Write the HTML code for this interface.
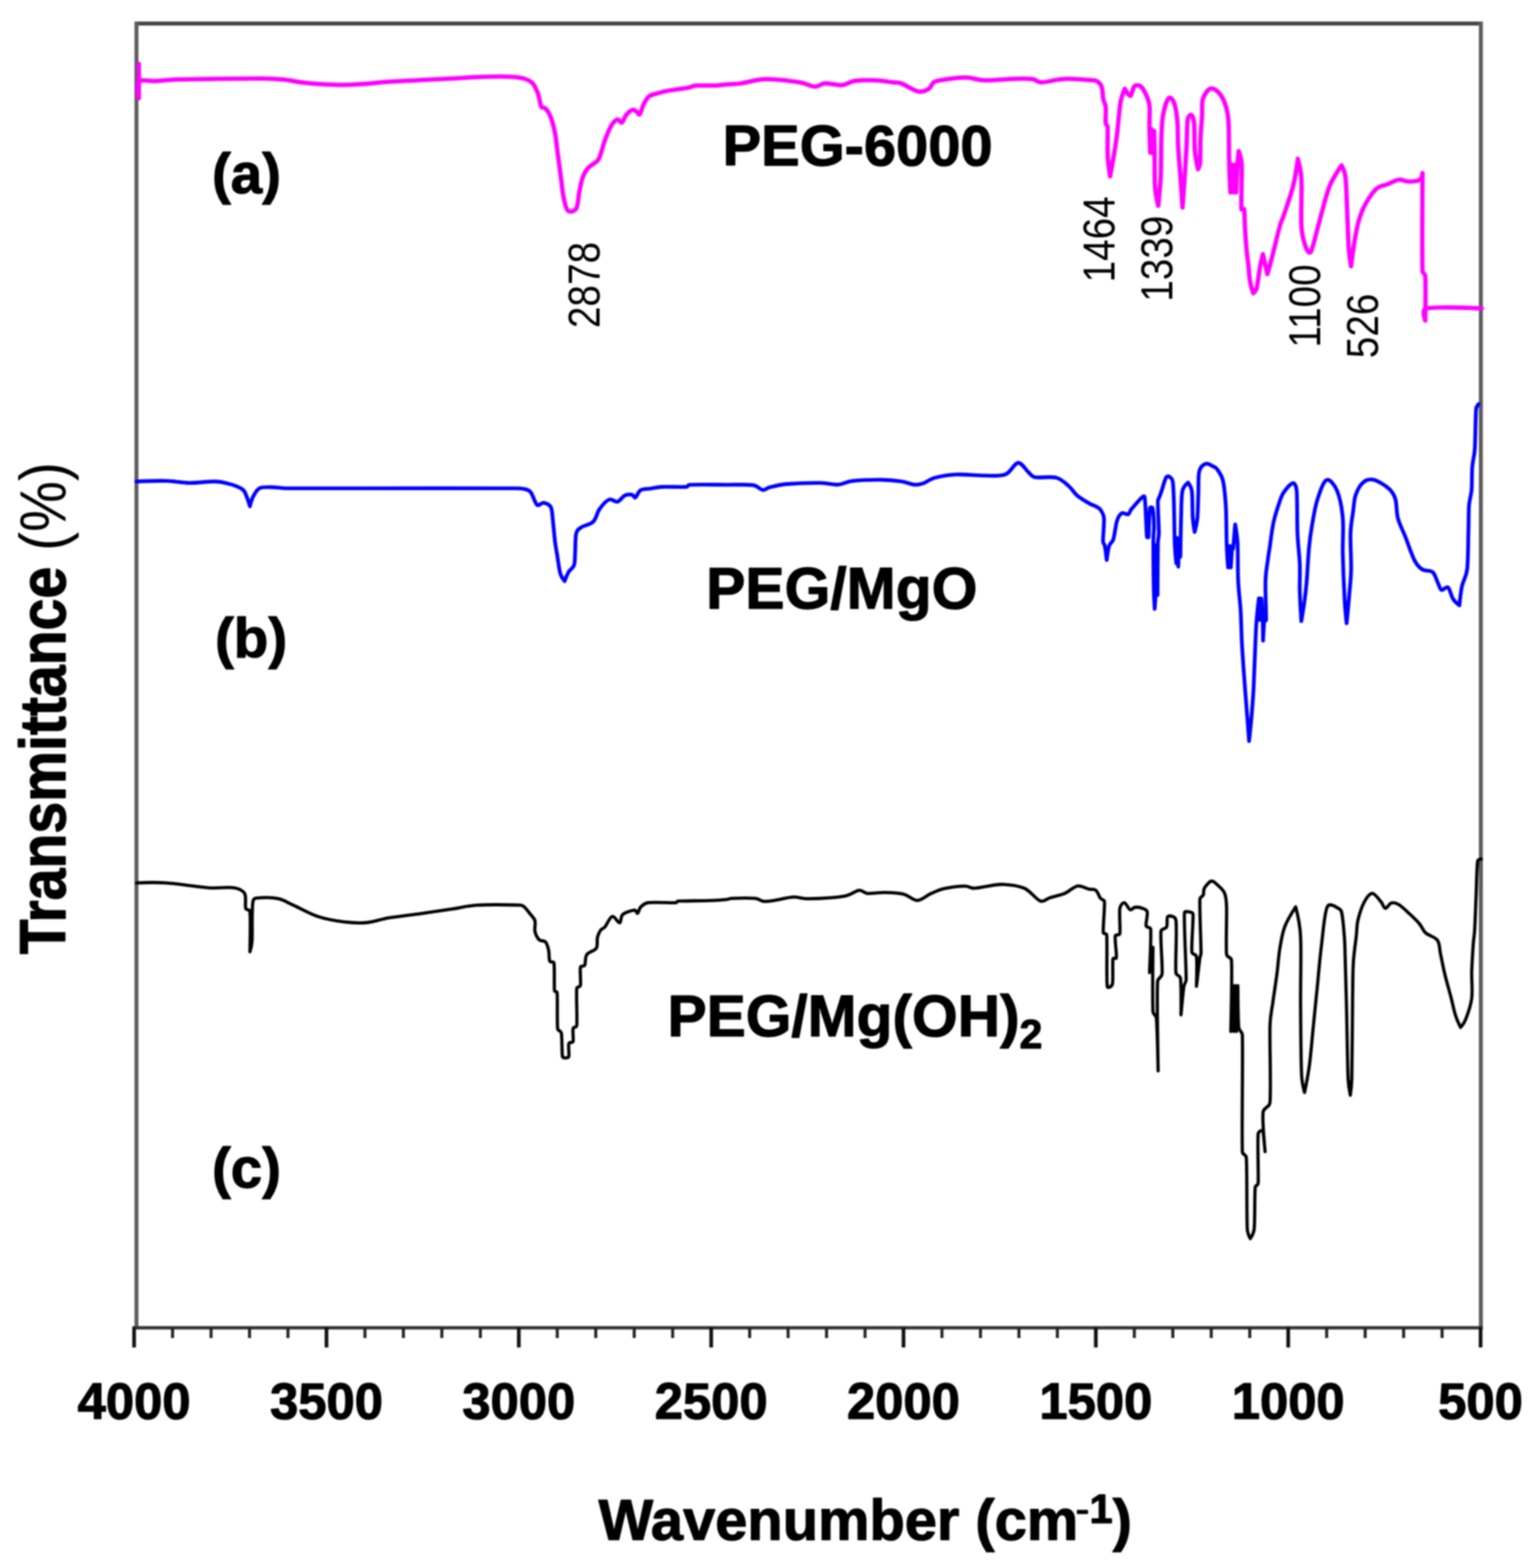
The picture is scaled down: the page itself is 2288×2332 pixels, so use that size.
<!DOCTYPE html>
<html><head><meta charset="utf-8"><title>FTIR spectra</title>
<style>
html,body{margin:0;padding:0;background:#fff;overflow:hidden;}
svg{display:block;filter:blur(0.9px);}
.b text{font-family:"Liberation Sans",Arial,sans-serif;font-weight:bold;fill:#000;stroke:#000;stroke-width:1.6px;stroke-linejoin:round;}
.r text{font-family:"Liberation Sans",Arial,sans-serif;font-weight:normal;fill:#000;}
</style></head><body>
<svg width="2288" height="2332" viewBox="0 0 2288 2332">
<rect width="2288" height="2332" fill="#fff"/>
<g fill="none" stroke-linecap="butt">
<line x1="203" y1="35" x2="2203" y2="35" stroke="#474747" stroke-width="6"/>
<line x1="203" y1="32" x2="203" y2="1975" stroke="#5e5e5e" stroke-width="6"/>
<line x1="2203" y1="32" x2="2203" y2="1975" stroke="#5e5e5e" stroke-width="6"/>
<line x1="197" y1="1974.7" x2="2206" y2="1974.7" stroke="#333" stroke-width="5"/>
<line x1="2202.6" y1="1974" x2="2202.6" y2="2004" stroke="#111" stroke-width="5.5"/>
<line x1="2145.3" y1="1974" x2="2145.3" y2="1990" stroke="#222" stroke-width="4.5"/>
<line x1="2088.1" y1="1974" x2="2088.1" y2="1990" stroke="#222" stroke-width="4.5"/>
<line x1="2030.9" y1="1974" x2="2030.9" y2="1990" stroke="#222" stroke-width="4.5"/>
<line x1="1973.6" y1="1974" x2="1973.6" y2="1990" stroke="#222" stroke-width="4.5"/>
<line x1="1916.4" y1="1974" x2="1916.4" y2="2004" stroke="#111" stroke-width="5.5"/>
<line x1="1859.2" y1="1974" x2="1859.2" y2="1990" stroke="#222" stroke-width="4.5"/>
<line x1="1801.9" y1="1974" x2="1801.9" y2="1990" stroke="#222" stroke-width="4.5"/>
<line x1="1744.7" y1="1974" x2="1744.7" y2="1990" stroke="#222" stroke-width="4.5"/>
<line x1="1687.5" y1="1974" x2="1687.5" y2="1990" stroke="#222" stroke-width="4.5"/>
<line x1="1630.2" y1="1974" x2="1630.2" y2="2004" stroke="#111" stroke-width="5.5"/>
<line x1="1573.0" y1="1974" x2="1573.0" y2="1990" stroke="#222" stroke-width="4.5"/>
<line x1="1515.8" y1="1974" x2="1515.8" y2="1990" stroke="#222" stroke-width="4.5"/>
<line x1="1458.6" y1="1974" x2="1458.6" y2="1990" stroke="#222" stroke-width="4.5"/>
<line x1="1401.3" y1="1974" x2="1401.3" y2="1990" stroke="#222" stroke-width="4.5"/>
<line x1="1344.1" y1="1974" x2="1344.1" y2="2004" stroke="#111" stroke-width="5.5"/>
<line x1="1286.9" y1="1974" x2="1286.9" y2="1990" stroke="#222" stroke-width="4.5"/>
<line x1="1229.6" y1="1974" x2="1229.6" y2="1990" stroke="#222" stroke-width="4.5"/>
<line x1="1172.4" y1="1974" x2="1172.4" y2="1990" stroke="#222" stroke-width="4.5"/>
<line x1="1115.2" y1="1974" x2="1115.2" y2="1990" stroke="#222" stroke-width="4.5"/>
<line x1="1058.0" y1="1974" x2="1058.0" y2="2004" stroke="#111" stroke-width="5.5"/>
<line x1="1000.7" y1="1974" x2="1000.7" y2="1990" stroke="#222" stroke-width="4.5"/>
<line x1="943.5" y1="1974" x2="943.5" y2="1990" stroke="#222" stroke-width="4.5"/>
<line x1="886.3" y1="1974" x2="886.3" y2="1990" stroke="#222" stroke-width="4.5"/>
<line x1="829.0" y1="1974" x2="829.0" y2="1990" stroke="#222" stroke-width="4.5"/>
<line x1="771.8" y1="1974" x2="771.8" y2="2004" stroke="#111" stroke-width="5.5"/>
<line x1="714.6" y1="1974" x2="714.6" y2="1990" stroke="#222" stroke-width="4.5"/>
<line x1="657.3" y1="1974" x2="657.3" y2="1990" stroke="#222" stroke-width="4.5"/>
<line x1="600.1" y1="1974" x2="600.1" y2="1990" stroke="#222" stroke-width="4.5"/>
<line x1="542.9" y1="1974" x2="542.9" y2="1990" stroke="#222" stroke-width="4.5"/>
<line x1="485.7" y1="1974" x2="485.7" y2="2004" stroke="#111" stroke-width="5.5"/>
<line x1="428.4" y1="1974" x2="428.4" y2="1990" stroke="#222" stroke-width="4.5"/>
<line x1="371.2" y1="1974" x2="371.2" y2="1990" stroke="#222" stroke-width="4.5"/>
<line x1="314.0" y1="1974" x2="314.0" y2="1990" stroke="#222" stroke-width="4.5"/>
<line x1="256.7" y1="1974" x2="256.7" y2="1990" stroke="#222" stroke-width="4.5"/>
<line x1="199.5" y1="1974" x2="199.5" y2="2004" stroke="#111" stroke-width="5.5"/>
</g>
<g fill="none" stroke-linejoin="round" stroke-linecap="round">
<path d="M206.5,95.0 C206.5,95.0 206.5,146.0 206.5,146.0 C206.5,146.0 202.3,125.8 206.5,121.5 C210.7,117.2 222.1,121.0 231.5,120.5 C240.9,120.0 248.8,118.6 263.0,118.3 C289.2,117.7 362.7,116.7 389.0,116.7 C403.2,116.7 410.1,117.2 420.6,118.3 C431.1,119.3 441.5,121.8 452.0,123.0 C462.5,124.2 473.1,125.0 483.6,125.5 C494.1,126.0 504.5,126.4 515.0,126.2 C525.5,126.0 536.2,125.4 546.7,124.6 C557.2,123.8 563.9,122.4 578.0,121.5 C593.7,120.5 625.2,119.1 641.0,118.3 C655.3,117.6 659.5,117.4 672.7,116.7 C685.9,116.0 705.3,114.6 720.0,114.2 C734.7,113.8 751.0,113.7 761.0,114.2 C769.6,114.6 774.7,115.3 780.0,117.0 C785.3,118.7 789.2,120.3 792.6,124.1 C796.0,127.9 798.4,134.1 800.5,139.9 C802.6,145.7 803.4,155.3 805.2,158.8 C806.6,161.5 809.5,158.9 811.5,161.1 C813.9,163.7 817.0,168.3 819.4,174.5 C821.8,180.7 824.1,190.3 825.7,198.2 C827.3,206.1 827.8,213.9 828.8,221.8 C829.8,229.7 831.0,237.5 832.0,245.4 C833.0,253.3 834.1,261.2 835.1,269.1 C836.1,277.0 836.7,285.4 838.3,292.7 C839.9,300.0 841.5,310.3 844.6,313.2 C847.8,316.1 854.3,314.7 857.2,310.0 C860.1,305.3 860.3,292.4 861.9,284.8 C863.5,277.2 864.6,270.1 866.7,264.3 C868.8,258.5 870.8,254.4 874.5,250.2 C878.2,246.0 885.6,242.5 888.7,239.1 C891.9,235.7 891.8,234.1 893.4,229.7 C895.2,224.7 897.1,216.3 899.7,209.2 C902.3,202.1 906.1,192.3 909.2,187.1 C912.3,182.0 916.0,178.5 918.6,177.7 C921.2,176.9 922.9,183.4 925.0,182.4 C927.1,181.4 928.7,174.6 931.3,171.4 C933.9,168.2 938.1,164.4 940.7,163.5 C943.3,162.6 945.2,164.8 947.0,165.9 C948.8,167.0 949.9,171.8 951.7,169.8 C953.5,167.8 955.6,158.5 958.0,154.0 C960.4,149.5 962.7,145.5 965.9,143.0 C969.1,140.5 972.5,140.4 977.0,139.1 C981.5,137.8 987.5,136.1 992.7,135.1 C998.0,134.1 1003.2,133.6 1008.5,132.8 C1013.8,132.0 1019.8,131.3 1024.2,130.4 C1028.7,129.5 1030.1,127.7 1035.2,127.3 C1041.8,126.8 1056.2,127.6 1063.6,127.3 C1070.7,127.0 1073.1,126.2 1079.4,125.7 C1085.7,125.2 1091.6,125.4 1101.5,124.1 C1111.5,122.8 1124.6,118.1 1139.3,117.8 C1154.0,117.5 1177.7,120.7 1189.8,122.5 C1200.0,124.0 1205.5,128.5 1211.8,128.8 C1218.1,129.1 1220.8,124.5 1227.6,124.1 C1234.4,123.7 1245.4,127.2 1252.8,126.6 C1260.2,126.0 1263.3,121.5 1271.7,120.3 C1280.1,119.1 1293.8,119.0 1303.2,119.4 C1312.7,119.8 1322.1,121.7 1328.4,122.5 C1334.1,123.2 1335.6,122.2 1341.0,124.1 C1347.3,126.4 1359.4,134.8 1366.2,136.1 C1373.0,137.4 1377.8,134.5 1382.0,132.0 C1386.2,129.5 1385.3,122.9 1391.5,121.0 C1400.4,118.2 1423.5,115.6 1435.6,115.3 C1447.7,115.0 1451.4,119.1 1464.0,119.4 C1476.6,119.7 1499.1,117.5 1511.2,117.2 C1522.5,116.9 1530.1,116.9 1536.4,117.8 C1542.4,118.6 1542.9,122.4 1549.0,122.5 C1555.3,122.6 1567.5,119.3 1574.3,118.4 C1581.1,117.5 1582.9,117.1 1590.0,117.2 C1597.6,117.3 1613.0,118.4 1620.0,119.0 C1625.3,119.4 1628.6,118.9 1631.8,120.7 C1635.0,122.5 1637.4,125.1 1639.0,129.6 C1640.6,134.0 1640.3,142.5 1641.3,147.4 C1642.3,152.3 1644.3,153.7 1644.9,159.2 C1645.5,165.1 1644.4,177.9 1644.9,182.9 C1645.2,185.9 1647.6,185.9 1647.8,188.9 C1648.3,196.8 1647.2,218.1 1647.8,230.3 C1648.4,242.5 1651.4,262.3 1651.4,262.3 C1651.4,262.3 1654.2,247.1 1655.5,239.8 C1656.8,232.5 1658.0,225.6 1659.1,218.5 C1660.2,211.4 1661.2,204.7 1662.1,197.2 C1663.0,189.7 1663.5,181.4 1664.4,173.5 C1665.3,165.6 1665.9,156.7 1667.4,149.8 C1668.9,142.9 1673.3,132.0 1673.3,132.0 C1673.3,132.0 1679.2,143.3 1681.6,142.7 C1684.0,142.1 1684.9,130.8 1687.5,128.4 C1690.1,126.0 1694.2,126.6 1697.0,128.4 C1699.8,130.2 1701.9,134.3 1704.1,139.1 C1706.3,143.8 1709.0,148.6 1710.0,156.9 C1711.0,165.2 1709.8,177.2 1710.0,188.9 C1710.2,200.6 1711.2,226.8 1711.2,226.8 C1711.2,226.8 1713.0,192.0 1713.0,192.0 C1713.0,192.0 1715.0,228.0 1715.0,228.0 C1715.0,228.0 1717.0,195.0 1717.0,195.0 C1717.0,195.0 1717.4,213.0 1717.6,226.8 C1717.8,240.6 1717.4,264.5 1718.3,277.7 C1719.2,290.7 1723.1,306.2 1723.1,306.2 C1723.1,306.2 1725.9,276.6 1726.6,265.9 C1727.3,255.3 1727.0,252.7 1727.2,242.2 C1727.4,231.7 1727.3,214.9 1727.8,203.1 C1728.3,191.2 1728.4,180.6 1730.2,171.1 C1732.0,161.6 1735.7,149.2 1738.5,146.2 C1741.3,143.2 1745.1,148.7 1746.8,153.3 C1749.0,159.0 1750.5,169.7 1751.5,180.6 C1752.5,191.5 1751.9,204.3 1752.7,218.5 C1753.5,232.7 1755.2,250.9 1756.3,265.9 C1757.4,280.9 1759.2,308.5 1759.2,308.5 C1759.2,308.5 1761.2,280.9 1762.2,265.9 C1763.2,250.9 1764.3,233.3 1765.1,218.5 C1765.9,203.7 1765.7,184.9 1766.9,177.0 C1767.4,173.4 1770.7,170.1 1772.3,171.1 C1773.9,172.1 1775.8,177.3 1776.4,182.9 C1777.3,191.8 1776.6,212.9 1777.6,224.4 C1778.6,235.9 1782.3,251.7 1782.3,251.7 C1782.3,251.7 1784.9,246.7 1785.3,242.2 C1785.9,234.7 1785.4,218.4 1785.9,206.6 C1786.4,194.8 1787.7,181.0 1788.3,171.1 C1788.9,161.2 1787.4,153.9 1789.4,147.4 C1791.4,140.9 1796.3,133.8 1800.1,132.0 C1803.9,130.2 1808.3,133.1 1812.0,136.7 C1815.7,140.3 1819.7,146.6 1822.3,153.8 C1824.9,161.0 1826.7,168.0 1827.5,180.0 C1828.5,194.9 1828.1,225.3 1828.6,243.0 C1829.1,260.7 1830.5,286.0 1830.5,286.0 C1830.5,286.0 1833.0,245.0 1833.0,245.0 C1833.0,245.0 1835.0,286.0 1835.0,286.0 C1835.0,286.0 1837.0,245.0 1837.0,245.0 C1837.0,245.0 1839.0,286.0 1839.0,286.0 C1839.0,286.0 1839.9,260.2 1840.5,250.0 C1841.1,239.8 1842.8,224.7 1842.8,224.7 C1842.8,224.7 1846.4,235.1 1847.1,243.3 C1847.8,251.6 1847.1,262.9 1847.1,274.2 C1847.0,285.5 1846.2,304.8 1846.8,311.0 C1847.0,312.8 1850.5,309.4 1850.8,311.2 C1851.7,316.0 1851.5,329.4 1852.1,339.7 C1852.7,350.0 1853.8,364.1 1854.6,373.0 C1855.4,381.9 1856.2,385.4 1857.0,392.8 C1857.8,400.2 1858.3,410.4 1859.5,417.6 C1860.7,424.8 1864.4,436.1 1864.4,436.1 C1864.4,436.1 1868.4,432.6 1869.4,428.7 C1871.1,422.3 1872.8,406.2 1874.3,397.8 C1875.8,389.4 1878.7,378.0 1878.7,378.0 C1878.7,378.0 1885.5,407.7 1885.5,407.7 C1885.5,407.7 1889.0,395.5 1891.6,385.4 C1894.7,373.4 1901.0,346.9 1904.0,336.0 C1906.0,328.7 1907.4,327.4 1909.8,320.2 C1913.1,310.3 1920.3,290.4 1923.8,276.4 C1927.3,262.4 1930.8,236.1 1930.8,236.1 C1930.8,236.1 1935.4,253.2 1936.1,267.6 C1937.0,284.5 1934.9,320.8 1936.1,337.7 C1937.1,352.2 1940.8,363.1 1943.1,369.2 C1944.5,372.9 1948.2,378.0 1950.1,374.5 C1953.0,369.2 1957.7,348.2 1960.6,337.7 C1963.5,327.2 1964.7,321.6 1967.6,311.4 C1970.5,301.2 1973.7,286.9 1978.1,276.4 C1982.5,265.9 1991.0,253.5 1993.9,248.4 C1994.6,247.2 1995.8,246.0 1995.8,246.0 C1995.8,246.0 2000.5,254.7 2001.5,262.5 C2002.9,273.5 2003.2,294.0 2004.0,311.9 C2004.8,329.8 2005.5,355.6 2006.5,369.6 C2007.3,381.5 2009.8,396.0 2009.8,396.0 C2009.8,396.0 2012.8,372.7 2014.7,361.4 C2016.6,350.1 2018.5,338.0 2021.3,328.4 C2024.0,318.8 2026.8,311.7 2031.2,303.7 C2035.6,295.7 2042.2,285.6 2047.7,280.6 C2053.2,275.7 2058.7,276.2 2064.2,274.0 C2069.7,271.8 2075.5,268.1 2080.7,267.4 C2085.9,266.7 2090.3,269.9 2095.5,269.9 C2100.7,269.9 2108.6,269.5 2112.0,267.4 C2115.4,265.3 2116.2,257.5 2116.2,257.5 C2116.2,257.5 2115.5,377.0 2116.2,402.6 C2116.3,406.8 2120.1,406.7 2120.3,410.9 C2121.0,423.3 2120.3,476.8 2120.3,476.8 C2120.3,476.8 2114.0,460.4 2122.0,458.7 C2136.0,455.7 2204.4,458.7 2204.4,458.7" stroke="#ff00ff" stroke-width="6.5"/>
<path d="M203.0,716.1 C203.0,716.1 234.1,714.8 247.3,715.2 C260.5,715.6 269.9,718.1 282.0,718.3 C294.1,718.4 309.8,715.8 319.8,716.1 C329.8,716.4 335.0,718.0 341.8,719.9 C348.6,721.8 356.5,724.6 360.7,727.8 C364.9,730.9 365.1,734.6 367.0,738.8 C368.9,743.0 371.8,753.0 371.8,753.0 C371.8,753.0 374.1,743.3 376.5,738.8 C378.9,734.3 381.3,728.6 386.0,726.2 C390.7,723.8 398.1,724.6 404.9,724.6 C411.7,724.6 417.0,726.1 426.9,726.2 C450.5,726.5 492.8,726.2 546.7,726.2 C603.4,726.2 728.4,726.0 767.3,726.2 C773.0,726.2 776.3,726.3 780.0,727.3 C783.7,728.3 786.5,728.3 789.5,732.0 C792.6,735.9 795.8,748.3 798.9,750.9 C802.0,753.5 805.0,747.2 808.4,747.7 C811.8,748.2 817.0,749.6 819.4,754.1 C821.8,758.6 821.5,765.9 822.5,774.5 C823.5,783.1 824.7,797.6 825.7,806.0 C826.8,814.4 827.5,817.1 828.8,825.0 C830.1,832.9 831.8,846.8 833.6,853.3 C835.2,858.8 839.9,864.3 839.9,864.3 C839.9,864.3 843.9,854.1 846.2,850.2 C848.6,846.3 852.4,845.4 854.0,840.7 C855.6,836.0 855.1,829.7 855.6,821.8 C856.1,813.9 855.6,799.7 857.2,793.4 C858.5,788.0 860.9,786.9 865.1,784.0 C869.3,781.1 877.9,780.6 882.4,776.1 C886.9,771.6 888.0,762.7 891.9,757.2 C895.8,751.7 901.5,744.8 906.0,743.0 C910.5,741.2 914.6,747.2 918.6,746.2 C922.6,745.2 926.0,738.4 929.7,736.7 C933.4,735.0 938.1,735.4 940.7,735.9 C943.3,736.4 943.3,741.1 945.4,739.9 C947.5,738.7 949.3,731.0 953.3,728.8 C957.2,726.6 963.9,727.3 969.1,726.5 C974.4,725.7 977.7,724.4 984.8,724.1 C993.4,723.7 1014.2,724.6 1021.0,724.1 C1023.6,723.9 1023.2,721.1 1025.8,721.0 C1035.6,720.5 1064.2,720.9 1080.0,721.0 C1095.8,721.1 1111.3,720.2 1120.4,721.5 C1127.5,722.5 1130.4,728.2 1134.6,728.7 C1138.8,729.2 1140.5,725.8 1145.6,724.6 C1151.6,723.1 1159.4,720.9 1170.9,719.9 C1183.5,718.8 1208.7,718.1 1221.3,718.3 C1232.7,718.4 1238.6,721.3 1246.5,720.8 C1254.4,720.3 1258.3,716.3 1268.5,715.2 C1279.5,714.0 1300.6,713.5 1312.7,713.6 C1324.8,713.8 1333.1,714.9 1341.0,716.1 C1348.9,717.3 1354.8,720.3 1360.0,720.8 C1365.2,721.3 1367.2,720.9 1372.5,719.2 C1377.8,717.5 1383.1,712.6 1391.5,710.4 C1399.9,708.1 1410.9,706.2 1423.0,705.7 C1435.1,705.2 1451.9,707.3 1464.0,707.3 C1476.1,707.3 1487.1,708.9 1495.5,705.7 C1503.9,702.6 1508.6,688.9 1514.4,688.4 C1520.2,687.9 1525.9,698.9 1530.1,702.5 C1534.2,706.0 1534.3,708.8 1539.6,709.8 C1546.4,711.1 1562.7,708.2 1571.1,710.4 C1579.5,712.6 1584.8,718.5 1590.0,723.0 C1595.2,727.5 1597.4,732.8 1602.6,737.2 C1607.8,741.6 1616.7,746.6 1621.3,749.2 C1625.0,751.3 1627.4,751.5 1630.0,753.0 C1632.6,754.5 1635.0,755.1 1637.0,758.0 C1639.0,760.9 1641.8,764.4 1642.3,770.4 C1643.0,778.3 1640.7,798.2 1640.9,805.2 C1641.0,808.5 1643.0,808.8 1643.6,812.1 C1644.5,816.7 1646.4,833.0 1646.4,833.0 C1646.4,833.0 1648.3,817.2 1649.9,812.1 C1651.5,807.1 1654.6,807.4 1656.2,802.4 C1658.2,796.1 1659.6,781.1 1661.7,774.6 C1663.5,768.9 1665.9,765.0 1668.7,763.4 C1671.5,761.8 1676.1,765.7 1678.4,764.8 C1680.7,763.9 1680.3,760.7 1682.6,757.9 C1686.3,753.5 1697.2,740.5 1700.7,738.4 C1703.6,736.7 1703.0,742.1 1703.4,745.4 C1704.1,750.7 1704.3,761.6 1704.8,770.4 C1705.3,779.2 1705.6,793.5 1706.2,798.2 C1706.3,799.3 1708.5,799.5 1708.6,798.4 C1709.3,791.4 1709.6,763.1 1710.6,756.0 C1710.9,754.2 1714.3,754.2 1714.7,756.0 C1715.7,760.3 1716.6,774.1 1716.8,781.9 C1717.0,789.6 1715.8,793.2 1715.8,802.5 C1715.7,818.0 1716.1,857.4 1716.4,874.6 C1716.7,888.6 1717.8,905.6 1717.8,905.6 C1717.8,905.6 1719.0,890.4 1719.2,878.0 C1719.5,862.4 1719.5,812.0 1719.5,812.0 C1719.5,812.0 1720.6,880.0 1720.6,880.0 C1720.6,880.0 1721.2,810.0 1721.2,810.0 C1721.2,810.0 1722.0,885.0 1722.0,885.0 C1722.0,885.0 1722.3,823.1 1722.6,807.6 C1722.7,800.6 1724.0,799.2 1724.0,792.2 C1724.0,781.9 1722.3,754.7 1722.5,745.8 C1722.6,742.4 1724.0,741.5 1725.0,738.6 C1726.0,735.8 1726.9,733.2 1728.5,728.7 C1730.2,723.8 1732.9,711.8 1735.4,709.2 C1738.0,706.7 1742.1,709.9 1743.8,713.4 C1745.5,716.9 1745.2,722.7 1745.7,730.3 C1746.2,738.3 1746.4,747.8 1746.7,761.2 C1747.0,774.6 1747.2,797.9 1747.7,810.7 C1748.2,823.0 1750.0,838.0 1750.0,838.0 C1750.0,838.0 1751.0,800.0 1751.0,800.0 C1751.0,800.0 1752.9,842.7 1752.9,842.7 C1752.9,842.7 1754.0,805.0 1754.0,805.0 C1754.0,805.0 1756.0,828.2 1756.0,828.2 C1756.0,828.2 1756.5,787.8 1757.0,771.5 C1757.5,755.2 1757.3,739.3 1759.0,730.3 C1760.3,723.6 1767.4,717.6 1767.4,717.6 C1767.4,717.6 1772.2,724.0 1773.0,730.1 C1774.2,738.9 1773.7,760.2 1774.4,770.4 C1775.0,779.9 1777.2,791.3 1777.2,791.3 C1777.2,791.3 1780.4,779.7 1781.3,770.4 C1782.2,761.1 1782.2,747.2 1782.7,735.6 C1783.2,724.0 1782.2,708.5 1784.1,700.9 C1785.7,694.4 1790.4,690.9 1793.9,689.7 C1797.4,688.5 1802.3,692.7 1805.0,693.9 C1807.4,695.0 1808.5,694.8 1810.0,697.0 C1812.3,700.4 1817.0,705.6 1819.1,714.0 C1821.4,723.3 1822.6,736.6 1823.6,752.6 C1824.6,768.6 1824.3,794.8 1824.9,810.0 C1825.5,825.2 1827.0,844.0 1827.0,844.0 C1827.0,844.0 1829.0,812.0 1829.0,812.0 C1829.0,812.0 1831.0,844.0 1831.0,844.0 C1831.0,844.0 1833.0,812.0 1833.0,812.0 C1833.0,812.0 1834.5,816.0 1834.5,816.0 C1834.5,816.0 1837.5,779.8 1837.5,779.8 C1837.5,779.8 1840.4,795.6 1841.1,808.6 C1841.8,822.7 1841.2,848.0 1842.0,864.5 C1842.8,881.0 1844.7,892.7 1845.6,907.7 C1846.5,922.7 1846.7,939.9 1847.4,954.6 C1848.2,969.3 1849.2,983.1 1850.1,996.0 C1851.0,1008.9 1851.9,1020.3 1852.8,1032.0 C1853.7,1043.7 1854.6,1054.6 1855.5,1066.3 C1856.4,1078.0 1858.2,1102.3 1858.2,1102.3 C1858.2,1102.3 1860.8,1078.3 1861.8,1066.3 C1862.8,1054.3 1863.9,1039.9 1864.5,1030.3 C1865.1,1020.7 1865.1,1018.4 1865.5,1008.6 C1866.0,997.5 1866.7,977.4 1867.3,963.6 C1867.9,949.8 1868.2,938.1 1869.1,925.8 C1870.0,913.5 1872.7,889.7 1872.7,889.7 C1872.7,889.7 1874.5,922.0 1874.5,922.0 C1874.5,922.0 1876.5,890.0 1876.5,890.0 C1876.5,890.0 1878.1,911.5 1878.5,922.0 C1878.9,932.5 1879.0,952.8 1879.0,952.8 C1879.0,952.8 1880.2,927.1 1881.0,922.0 C1881.2,920.9 1883.5,923.3 1883.5,922.2 C1883.8,912.6 1882.1,879.5 1882.6,864.5 C1883.0,849.8 1885.2,840.4 1886.2,832.0 C1887.2,823.9 1887.7,822.1 1888.9,814.0 C1890.2,805.0 1892.0,789.0 1894.3,778.0 C1896.6,767.0 1900.4,755.6 1903.0,748.0 C1905.5,740.7 1906.4,737.1 1909.8,732.2 C1913.2,727.3 1920.2,718.9 1923.4,718.5 C1926.6,718.1 1928.5,724.2 1929.0,729.9 C1930.1,742.4 1929.4,775.3 1930.2,793.4 C1931.0,811.5 1933.0,824.4 1933.6,838.7 C1934.2,853.1 1933.2,865.3 1933.6,879.5 C1934.0,893.7 1935.9,923.8 1935.9,923.8 C1935.9,923.8 1939.1,905.0 1940.4,895.4 C1941.7,885.8 1942.7,879.1 1943.8,865.9 C1944.9,852.7 1945.9,830.0 1947.2,816.0 C1948.5,802.0 1949.6,794.1 1951.7,782.0 C1953.8,769.9 1956.1,754.8 1959.7,743.5 C1963.3,732.2 1968.4,716.3 1973.3,714.0 C1978.2,711.7 1985.1,720.6 1989.1,729.9 C1993.1,739.4 1996.2,755.0 1997.6,770.7 C1999.0,786.4 1997.1,803.4 1997.6,824.0 C1998.1,844.6 1999.5,877.4 2000.5,894.6 C2001.3,909.2 2003.3,927.0 2003.3,927.0 C2003.3,927.0 2006.1,898.4 2007.2,885.0 C2008.3,871.6 2009.7,862.1 2010.0,846.9 C2010.3,831.6 2008.6,807.8 2009.1,793.5 C2009.6,779.2 2011.6,770.6 2012.9,761.1 C2014.2,751.6 2014.2,743.6 2016.7,736.3 C2019.2,729.0 2023.6,721.1 2028.1,717.3 C2032.5,713.5 2037.0,711.9 2043.4,713.5 C2049.8,715.1 2060.9,722.0 2066.3,726.8 C2071.7,731.6 2073.6,734.8 2075.8,742.1 C2078.0,749.4 2077.1,761.2 2079.6,770.7 C2082.1,780.2 2086.9,788.8 2091.0,799.3 C2095.1,809.8 2100.3,825.7 2104.4,833.6 C2108.0,840.6 2111.4,844.0 2115.8,846.9 C2120.2,849.8 2127.3,847.5 2131.1,850.7 C2134.9,853.9 2136.5,861.5 2138.7,866.0 C2140.9,870.5 2141.8,876.1 2144.4,877.4 C2147.0,878.7 2151.1,871.4 2154.0,873.6 C2156.9,875.8 2158.8,886.3 2161.6,890.8 C2164.4,895.2 2171.1,900.3 2171.1,900.3 C2171.1,900.3 2173.0,880.6 2174.9,871.7 C2176.8,862.8 2181.2,858.5 2182.6,846.9 C2184.2,833.2 2184.0,805.6 2184.5,789.7 C2185.0,773.8 2184.6,761.8 2185.4,751.6 C2186.2,741.4 2188.4,738.2 2189.2,728.7 C2190.0,719.2 2189.4,704.6 2190.2,694.4 C2191.0,684.2 2193.2,679.8 2194.0,667.7 C2194.9,653.4 2195.0,619.7 2195.9,608.6 C2196.2,604.8 2199.7,601.0 2199.7,601.0" stroke="#0000ff" stroke-width="5.6"/>
<path d="M203.2,1313.1 C203.2,1313.1 229.5,1311.9 247.3,1313.1 C265.2,1314.3 293.5,1319.1 310.3,1320.3 C327.1,1321.5 339.2,1318.9 348.1,1320.3 C356.1,1321.6 361.0,1323.7 363.9,1328.8 C366.8,1333.9 364.2,1346.4 365.5,1350.9 C366.5,1354.3 371.5,1352.1 371.8,1355.6 C372.9,1366.4 371.8,1415.5 371.8,1415.5 C371.8,1415.5 374.5,1407.0 374.9,1399.8 C375.7,1387.2 374.1,1350.7 376.5,1339.9 C377.8,1334.0 383.1,1335.7 389.1,1335.2 C395.4,1334.7 406.4,1334.9 414.3,1336.7 C422.2,1338.5 426.5,1341.8 436.4,1346.2 C446.4,1350.7 461.1,1359.3 474.2,1363.5 C487.3,1367.7 503.1,1370.0 515.2,1371.4 C527.3,1372.8 536.2,1373.0 546.7,1372.0 C557.2,1371.0 565.1,1367.3 578.2,1365.1 C591.3,1362.9 609.8,1361.0 625.5,1358.8 C641.2,1356.6 658.5,1354.0 672.7,1351.9 C686.9,1349.8 693.8,1347.2 710.6,1346.2 C727.4,1345.2 762.0,1345.8 773.6,1346.2 C776.7,1346.3 777.6,1346.8 780.0,1348.8 C782.4,1350.8 785.3,1354.9 787.9,1358.3 C790.5,1361.7 794.5,1364.8 795.8,1369.3 C797.1,1373.8 794.8,1380.4 795.8,1385.1 C796.8,1389.8 799.5,1395.1 802.1,1397.7 C804.7,1400.3 809.1,1398.2 811.5,1400.8 C813.9,1403.4 815.2,1408.7 816.2,1413.4 C817.2,1418.1 816.5,1426.1 817.8,1429.2 C819.0,1432.1 823.6,1429.2 824.1,1432.3 C825.3,1439.6 824.1,1465.9 824.9,1473.3 C825.1,1475.6 828.6,1474.2 828.8,1476.5 C829.6,1486.0 828.5,1520.0 829.6,1530.0 C830.0,1533.7 834.5,1532.6 835.1,1536.3 C836.3,1543.1 835.7,1564.8 836.7,1571.0 C837.1,1573.3 839.8,1573.4 841.4,1573.4 C843.0,1573.4 845.7,1573.4 846.2,1571.0 C847.0,1567.5 845.2,1555.8 846.2,1552.1 C847.1,1549.0 851.6,1552.0 852.5,1548.9 C853.5,1545.2 851.6,1533.9 852.5,1530.0 C853.2,1526.8 857.7,1528.5 858.0,1525.3 C858.9,1515.3 857.1,1480.2 858.0,1470.2 C858.3,1466.9 862.9,1468.6 863.5,1465.4 C864.4,1460.1 862.5,1443.6 863.5,1438.6 C864.2,1435.5 868.4,1438.3 869.8,1435.5 C871.4,1432.3 870.1,1423.9 873.0,1419.7 C875.9,1415.5 884.5,1414.5 887.1,1410.3 C889.7,1406.1 887.7,1399.0 888.7,1394.5 C889.8,1390.0 891.6,1386.1 893.4,1383.5 C895.2,1380.9 897.4,1381.5 899.7,1378.8 C902.6,1375.4 907.1,1364.0 910.8,1363.0 C914.5,1362.0 919.2,1373.0 921.8,1372.5 C924.4,1372.0 922.8,1363.1 926.5,1359.9 C930.2,1356.8 940.2,1353.9 943.9,1353.6 C946.9,1353.4 947.0,1359.1 948.6,1358.3 C950.2,1357.5 950.7,1351.4 953.3,1348.8 C955.9,1346.2 958.6,1343.2 964.3,1342.5 C973.0,1341.5 997.9,1342.9 1005.3,1342.5 C1007.1,1342.4 1006.7,1340.3 1008.5,1340.2 C1016.9,1339.7 1043.8,1339.8 1055.7,1339.4 C1066.7,1339.0 1074.5,1338.3 1080.0,1337.8 C1084.1,1337.4 1084.8,1336.3 1088.9,1336.1 C1096.2,1335.8 1115.7,1335.4 1123.6,1336.1 C1129.6,1336.7 1131.5,1340.0 1136.2,1340.5 C1140.9,1341.0 1144.9,1340.2 1151.9,1339.2 C1159.2,1338.2 1171.9,1334.6 1180.3,1334.2 C1188.7,1333.8 1192.4,1336.9 1202.4,1336.7 C1215.0,1336.5 1243.3,1335.0 1255.9,1332.9 C1266.5,1331.1 1272.2,1324.8 1278.0,1324.1 C1283.8,1323.4 1284.6,1328.3 1290.6,1328.8 C1296.9,1329.3 1306.9,1327.1 1315.8,1327.3 C1324.7,1327.5 1336.0,1327.8 1344.2,1329.8 C1352.4,1331.8 1357.9,1339.4 1364.7,1339.2 C1371.5,1339.0 1378.6,1331.7 1385.2,1328.8 C1391.8,1325.9 1395.7,1323.4 1404.1,1321.6 C1412.5,1319.8 1428.2,1317.9 1435.6,1317.8 C1441.4,1317.7 1443.0,1320.9 1448.2,1321.0 C1453.5,1321.1 1459.8,1319.4 1467.1,1318.4 C1474.4,1317.5 1482.8,1314.9 1492.3,1315.3 C1501.8,1315.7 1514.6,1316.9 1523.8,1321.0 C1533.0,1325.1 1541.2,1337.5 1547.5,1339.9 C1553.8,1342.3 1555.6,1337.1 1561.6,1335.2 C1567.6,1333.3 1576.9,1331.7 1583.7,1328.8 C1590.5,1325.9 1596.5,1318.9 1602.6,1317.8 C1608.6,1316.7 1615.4,1321.3 1620.0,1322.3 C1624.5,1323.3 1627.4,1321.7 1630.2,1324.0 C1633.0,1326.3 1634.9,1333.1 1637.0,1335.9 C1639.1,1338.7 1642.7,1337.5 1643.0,1341.0 C1643.7,1349.5 1640.7,1378.7 1641.3,1386.9 C1641.5,1389.7 1646.2,1387.5 1646.4,1390.3 C1647.4,1403.6 1645.8,1454.7 1647.2,1466.9 C1647.6,1470.7 1654.1,1467.2 1654.9,1463.5 C1656.3,1456.7 1654.7,1432.5 1655.7,1426.0 C1656.1,1423.6 1660.6,1426.8 1660.8,1424.4 C1661.4,1418.7 1658.2,1398.0 1659.1,1392.0 C1659.6,1388.6 1665.3,1392.0 1665.9,1388.6 C1667.0,1381.8 1664.8,1358.8 1665.9,1351.2 C1666.6,1346.4 1670.2,1342.4 1672.7,1342.7 C1675.2,1343.0 1678.7,1351.8 1681.2,1352.9 C1683.8,1354.0 1685.2,1349.9 1688.0,1349.5 C1690.8,1349.1 1695.1,1349.3 1698.2,1350.4 C1701.3,1351.5 1705.6,1351.9 1706.7,1356.3 C1707.8,1360.7 1704.2,1372.5 1705.0,1376.7 C1705.8,1380.5 1711.5,1378.0 1711.8,1381.8 C1712.6,1393.4 1710.1,1446.5 1710.1,1446.5 C1710.1,1446.5 1715.2,1409.0 1715.2,1409.0 C1715.2,1409.0 1714.4,1486.7 1715.2,1504.3 C1715.4,1509.4 1719.9,1509.4 1720.3,1514.5 C1721.6,1529.2 1722.9,1592.7 1722.9,1592.7 C1722.9,1592.7 1721.0,1484.2 1722.0,1460.1 C1722.3,1453.9 1728.4,1454.4 1728.8,1448.2 C1729.6,1435.7 1726.0,1396.8 1727.1,1385.2 C1727.6,1380.3 1733.9,1382.1 1735.6,1378.4 C1737.3,1374.7 1735.0,1364.8 1737.3,1363.1 C1739.6,1361.4 1748.5,1362.4 1749.3,1368.2 C1751.3,1382.1 1748.2,1432.0 1749.3,1446.5 C1749.7,1451.4 1755.5,1450.1 1756.1,1455.0 C1757.4,1465.5 1756.9,1509.4 1756.9,1509.4 C1756.9,1509.4 1759.9,1475.7 1761.2,1466.9 C1761.9,1462.1 1764.6,1461.5 1764.6,1456.7 C1764.7,1438.5 1761.2,1374.7 1762.0,1358.0 C1762.2,1354.5 1767.6,1356.0 1769.7,1356.3 C1771.8,1356.6 1774.6,1356.9 1774.8,1359.7 C1775.4,1369.6 1772.2,1405.4 1773.1,1415.9 C1773.4,1420.2 1779.3,1418.4 1779.9,1422.7 C1781.0,1431.2 1779.9,1466.9 1779.9,1466.9 C1779.9,1466.9 1783.9,1432.6 1785.0,1424.4 C1785.4,1421.3 1786.7,1420.8 1786.7,1417.6 C1786.7,1403.1 1784.4,1352.1 1785.0,1337.6 C1785.1,1333.8 1789.0,1333.6 1790.1,1330.8 C1791.2,1328.0 1789.8,1324.0 1791.8,1320.6 C1793.8,1317.2 1798.9,1311.2 1802.0,1310.4 C1805.1,1309.6 1807.2,1312.5 1810.5,1315.5 C1813.8,1318.5 1819.3,1322.7 1821.7,1328.2 C1824.1,1333.7 1824.4,1339.4 1824.7,1348.7 C1825.2,1363.9 1823.5,1406.0 1824.7,1419.2 C1825.2,1424.3 1831.7,1422.9 1832.0,1428.0 C1833.0,1447.1 1831.0,1534.0 1831.0,1534.0 C1831.0,1534.0 1833.5,1466.0 1833.5,1466.0 C1833.5,1466.0 1835.5,1534.0 1835.5,1534.0 C1835.5,1534.0 1837.5,1466.0 1837.5,1466.0 C1837.5,1466.0 1839.5,1534.0 1839.5,1534.0 C1839.5,1534.0 1841.5,1466.0 1841.5,1466.0 C1841.5,1466.0 1841.7,1515.7 1842.8,1528.0 C1843.3,1533.7 1848.0,1533.8 1848.2,1539.6 C1849.1,1570.4 1847.2,1682.6 1848.2,1712.9 C1848.4,1717.7 1853.8,1716.9 1854.1,1721.7 C1855.3,1740.8 1854.5,1807.3 1855.5,1827.4 C1855.8,1834.3 1859.9,1842.1 1859.9,1842.1 C1859.9,1842.1 1865.1,1834.5 1865.8,1827.4 C1867.0,1814.7 1866.3,1777.0 1867.3,1765.8 C1867.6,1762.5 1871.5,1763.2 1871.7,1759.9 C1872.4,1746.7 1870.5,1699.7 1871.7,1686.5 C1872.1,1682.3 1879.0,1680.6 1879.0,1680.6 C1879.0,1680.6 1882.0,1712.9 1882.0,1712.9 C1882.0,1712.9 1877.8,1666.4 1879.0,1654.2 C1879.8,1646.2 1888.7,1647.6 1889.3,1639.5 C1891.0,1618.0 1888.6,1549.9 1889.3,1524.9 C1889.8,1508.9 1892.0,1502.4 1893.7,1489.7 C1895.4,1477.0 1897.9,1461.8 1899.6,1448.6 C1901.3,1435.4 1902.0,1422.2 1904.0,1410.4 C1906.0,1398.7 1907.4,1388.4 1911.3,1378.1 C1915.2,1367.8 1927.5,1348.7 1927.5,1348.7 C1927.5,1348.7 1933.8,1372.7 1934.8,1392.8 C1936.0,1417.3 1934.5,1461.3 1934.8,1495.6 C1935.0,1529.9 1935.3,1576.9 1936.3,1598.4 C1936.8,1610.4 1940.7,1624.8 1940.7,1624.8 C1940.7,1624.8 1945.8,1600.3 1948.0,1583.7 C1950.2,1567.1 1951.9,1544.5 1953.9,1524.9 C1955.9,1505.3 1957.8,1485.8 1959.8,1466.2 C1961.8,1446.6 1963.2,1427.1 1965.7,1407.5 C1968.2,1387.9 1970.1,1358.0 1974.5,1348.7 C1977.9,1341.4 1988.4,1349.7 1992.1,1351.7 C1995.8,1353.7 1995.8,1356.3 1996.6,1360.8 C1997.9,1367.8 1999.2,1383.7 2000.0,1394.0 C2000.8,1404.3 2000.7,1409.8 2001.1,1422.8 C2001.6,1441.3 2002.6,1474.5 2003.3,1504.8 C2004.0,1535.1 2004.6,1583.8 2005.5,1604.5 C2006.0,1615.5 2008.8,1628.8 2008.8,1628.8 C2008.8,1628.8 2010.7,1615.5 2011.0,1604.5 C2011.6,1580.5 2011.8,1513.6 2012.2,1484.8 C2012.5,1460.9 2012.4,1447.2 2013.3,1431.7 C2014.2,1416.2 2016.6,1402.2 2017.7,1391.8 C2018.8,1381.8 2018.1,1377.7 2019.9,1369.6 C2021.8,1361.5 2025.3,1349.8 2028.8,1343.0 C2032.3,1336.2 2036.8,1329.0 2041.0,1328.6 C2045.2,1328.2 2050.9,1337.1 2054.2,1340.8 C2057.5,1344.5 2058.3,1350.4 2060.9,1350.8 C2063.5,1351.2 2066.5,1343.9 2069.8,1343.0 C2073.1,1342.1 2076.4,1342.7 2080.8,1345.3 C2085.2,1347.9 2091.1,1353.8 2096.3,1358.6 C2101.5,1363.4 2107.7,1369.3 2111.8,1374.1 C2115.9,1378.9 2116.3,1383.4 2120.7,1387.4 C2125.1,1391.5 2134.7,1393.2 2138.4,1398.4 C2142.1,1403.6 2141.1,1409.9 2142.9,1418.4 C2144.8,1426.9 2146.9,1438.7 2149.5,1449.4 C2152.1,1460.1 2155.8,1472.6 2158.4,1482.6 C2161.0,1492.6 2162.6,1501.6 2165.0,1509.2 C2167.4,1516.8 2172.8,1528.0 2172.8,1528.0 C2172.8,1528.0 2178.2,1521.9 2180.5,1515.8 C2183.3,1508.6 2187.9,1496.6 2189.4,1484.8 C2190.9,1473.0 2189.0,1458.3 2189.4,1445.0 C2189.8,1431.7 2190.9,1415.4 2191.6,1405.1 C2192.3,1395.1 2193.2,1392.9 2193.8,1382.9 C2194.5,1370.4 2195.3,1346.8 2196.0,1329.8 C2196.7,1312.8 2196.9,1289.7 2198.2,1281.0 C2198.6,1278.1 2203.8,1277.7 2203.8,1277.7" stroke="#000" stroke-width="4.8"/>
</g>
<g class="b">
<text x="315.4" y="287.3" font-size="84">(a)</text>
<text x="319.9" y="977.9" font-size="84">(b)</text>
<text x="315.4" y="1765.8" font-size="84">(c)</text>
<text x="1075" y="246" font-size="86">PEG-6000</text>
<text x="1050.5" y="905.2" font-size="87.5">PEG/MgO</text>
<text x="993" y="1541.4" font-size="87.3">PEG/Mg(OH)<tspan font-size="61" dy="17.3">2</tspan></text>
<text x="2202.6" y="2110.3" font-size="75.5" text-anchor="middle">500</text>
<text x="1916.4" y="2110.3" font-size="75.5" text-anchor="middle">1000</text>
<text x="1630.2" y="2110.3" font-size="75.5" text-anchor="middle">1500</text>
<text x="1344.1" y="2110.3" font-size="75.5" text-anchor="middle">2000</text>
<text x="1058.0" y="2110.3" font-size="75.5" text-anchor="middle">2500</text>
<text x="771.8" y="2110.3" font-size="75.5" text-anchor="middle">3000</text>
<text x="485.7" y="2110.3" font-size="75.5" text-anchor="middle">3500</text>
<text x="199.5" y="2110.3" font-size="75.5" text-anchor="middle">4000</text>
<text x="890.4" y="2289.5" font-size="86">Wavenumber (cm<tspan font-size="62" dy="-25" dx="-4" font-weight="normal">-</tspan><tspan font-size="62">1</tspan><tspan dy="25">)</tspan></text>
<text transform="translate(97.2,1419.2) rotate(-90) scale(1,1.125)" font-size="85">Transmittance <tspan font-weight="normal" stroke-width="0">(%)</tspan></text>
</g>
<g class="r">
<text transform="translate(892.4,487.9) rotate(-90) scale(1,1.159)" font-size="57.6">2878</text>
<text transform="translate(1657.8,420.1) rotate(-90) scale(1,1.159)" font-size="57.6">1464</text>
<text transform="translate(1743.9,448.8) rotate(-90) scale(1,1.159)" font-size="57.6">1339</text>
<text transform="translate(1963.7,517) rotate(-90) scale(1,1.159)" font-size="57.6">1100</text>
<text transform="translate(2049.7,532.7) rotate(-90) scale(1,1.159)" font-size="57.6">526</text>
</g>
</svg>
</body></html>
